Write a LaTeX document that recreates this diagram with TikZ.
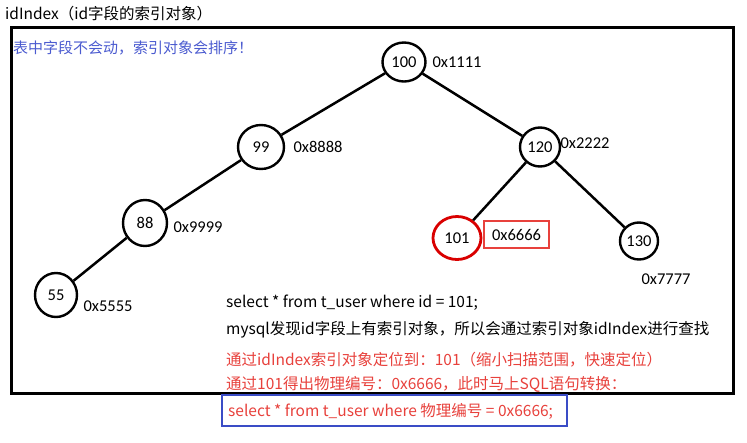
\documentclass[tikz,border=0pt]{standalone}
\usepackage{fontspec}
\setmainfont{Noto Sans CJK SC}
\newfontfamily\numfont{Carlito}
\usetikzlibrary{shapes.geometric}
\definecolor{redtxt}{HTML}{E8413C}
\definecolor{bluetxt}{HTML}{4B5BD0}
\definecolor{bluebox}{HTML}{3A4CC6}
\begin{document}
\begin{tikzpicture}[x=1pt,y=-1pt,
  tn/.style={ellipse,draw,line width=2.4pt,inner sep=0pt,font=\numfont\fontsize{16.5}{16.5}\selectfont},
  addr/.style={font=\numfont\fontsize{16.5}{16.5}\selectfont,inner sep=0pt},
  txt/.style={font=\fontsize{15.5}{15.5}\selectfont,inner sep=0pt,anchor=base west},
  link/.style={line width=2.5pt}]
\useasboundingbox[fill=white] (0,0) rectangle (747,442);
% frame
\draw[line width=3pt] (11,27) rectangle (733,393);
% titles
\node[txt] (title) at (5,19) {idIndex（id字段的索引对象）};
\node[txt,text=bluetxt,font=\fontsize{15}{15}\selectfont] (note) at (13,53) {表中字段不会动，索引对象会排序！};
% tree nodes
\node[tn,minimum width=43pt,minimum height=39pt] (n100) at (404,62) {100};
\node[tn,minimum width=46pt,minimum height=44pt] (n99) at (261,147) {99};
\node[tn,minimum width=40pt,minimum height=39pt] (n120) at (540,147) {120};
\node[tn,minimum width=44pt,minimum height=46pt] (n88) at (145,223) {88};
\node[tn,minimum width=42pt,minimum height=44pt] (n55) at (56,295) {55};
\node[tn,draw=red!85!black,line width=2.8pt,minimum width=48pt,minimum height=43pt] (n101) at (457,238) {101};
\node[tn,minimum width=38pt,minimum height=37pt] (n130) at (639,241) {130};
% edges
\draw[link] (n100) -- (n99);
\draw[link] (n99) -- (n88);
\draw[link] (n88) -- (n55);
\draw[link] (n100) -- (n120);
\draw[link] (n120) -- (n101);
\draw[link] (n120) -- (n130);
% addresses
\node[addr] (a100) at (457,62) {0x1111};
\node[addr] (a99) at (318,147) {0x8888};
\node[addr] (a120) at (585,143) {0x2222};
\node[addr] (a88) at (198,227) {0x9999};
\node[addr] (a55) at (108,306) {0x5555};
\node[addr,draw=redtxt,line width=2.5pt,minimum width=65pt,minimum height=27pt] (a101) at (516.5,234.5) {0x6666};
\node[addr] (a130) at (666,279) {0x7777};
% text lines
\node[txt] (l1) at (226,307) {select * from t\_user where id = 101;};
\node[txt] (l2) at (226,334) {mysql发现id字段上有索引对象，所以会通过索引对象idIndex进行查找};
\node[txt,text=redtxt] (l3) at (226,365) {通过idIndex索引对象定位到：101（缩小扫描范围，快速定位）};
\node[txt,text=redtxt] (l4) at (226,389) {通过101得出物理编号：0x6666，此时马上SQL语句转换：};
\draw[bluebox,line width=2.5pt] (222,395) rectangle (567,426);
\node[txt,text=redtxt] (l5) at (228,416) {select * from t\_user where 物理编号 = 0x6666;};
\end{tikzpicture}
\end{document}
